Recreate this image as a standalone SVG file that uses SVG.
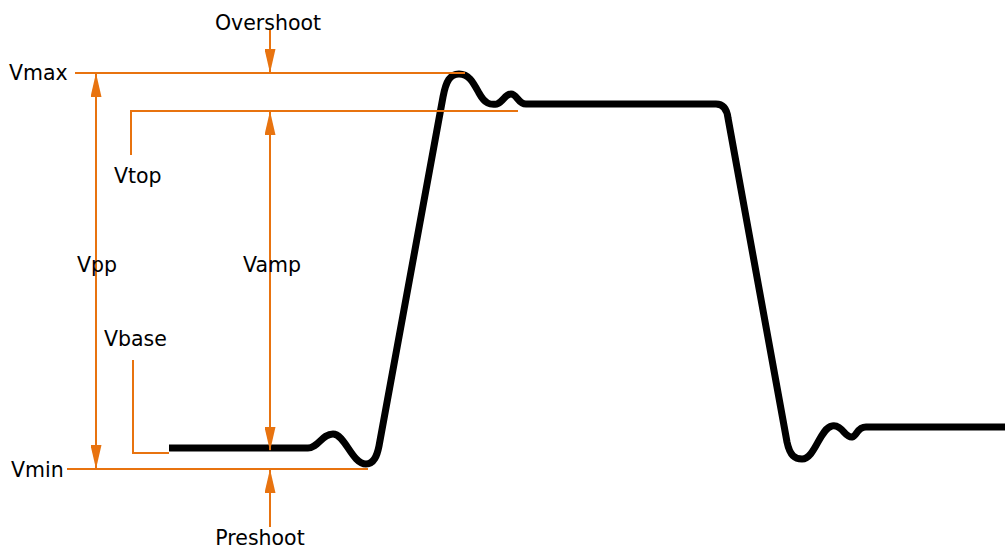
<svg xmlns="http://www.w3.org/2000/svg" width="1005" height="550" viewBox="0 0 1005 550">
<style>
.o{stroke:#E8730F;stroke-width:2;fill:none}
.lbl{font-family:"DejaVu Sans",sans-serif;font-size:20.5px;fill:#000}
.wave{stroke:#000;stroke-width:7;fill:none;stroke-linejoin:round}
</style>
<defs>
<marker id="ah" viewBox="0 0 24 11" refX="23" refY="5.5" markerWidth="24" markerHeight="11" markerUnits="userSpaceOnUse" orient="auto-start-reverse">
<path d="M0,0 L24,5.5 L0,11 Z" fill="#E8730F"/>
</marker>
</defs>
<rect width="1005" height="550" fill="#fff"/>
<g id="waveform">
<path class="wave" d="M169,448 L308,448 C318,448 322,434 333,434 C345,434 352,464 366,464 C374,464 377,456 379,446 L443,97 C446,81 450,74 459,74 C469,74 473,82 479,93 C485,104 490,105 497,104 C503,102 505,94 511,94 C517,94 518,104 526,104 L716,104 C724,104 727,110 728,118 L787,442 C790,456 795,459 802,459 C815,459 820,428 832,426 C842,424 845,438 852,437 C857,436 857,427 866,427 L1005,427"/>
</g>
<g id="connectors">
<line class="o" x1="75" y1="73" x2="465" y2="73"/>
<polyline class="o" points="131,155 131,111 518,111"/>
<polyline class="o" points="133,360 133,453 169,453"/>
<line class="o" x1="67" y1="469" x2="368" y2="469"/>
<line class="o" x1="96" y1="74" x2="96" y2="468" marker-start="url(#ah)" marker-end="url(#ah)"/>
<line class="o" x1="270" y1="112" x2="270" y2="450" marker-start="url(#ah)" marker-end="url(#ah)"/>
<line class="o" x1="270" y1="30" x2="270" y2="72" marker-end="url(#ah)"/>
<line class="o" x1="270" y1="527" x2="270" y2="470" marker-end="url(#ah)"/>
</g>
<g id="label-overshoot"><text class="lbl" x="268" y="30" text-anchor="middle">Overshoot</text></g>
<g id="label-vmax"><text class="lbl" x="9" y="80">Vmax</text></g>
<g id="label-vtop"><text class="lbl" x="114" y="183">Vtop</text></g>
<g id="label-vpp"><text class="lbl" x="77" y="272">Vpp</text></g>
<g id="label-vamp"><text class="lbl" x="272" y="272" text-anchor="middle">Vamp</text></g>
<g id="label-vbase"><text class="lbl" x="104" y="346">Vbase</text></g>
<g id="label-vmin"><text class="lbl" x="11" y="477">Vmin</text></g>
<g id="label-preshoot"><text class="lbl" x="260" y="545" text-anchor="middle">Preshoot</text></g>
</svg>
